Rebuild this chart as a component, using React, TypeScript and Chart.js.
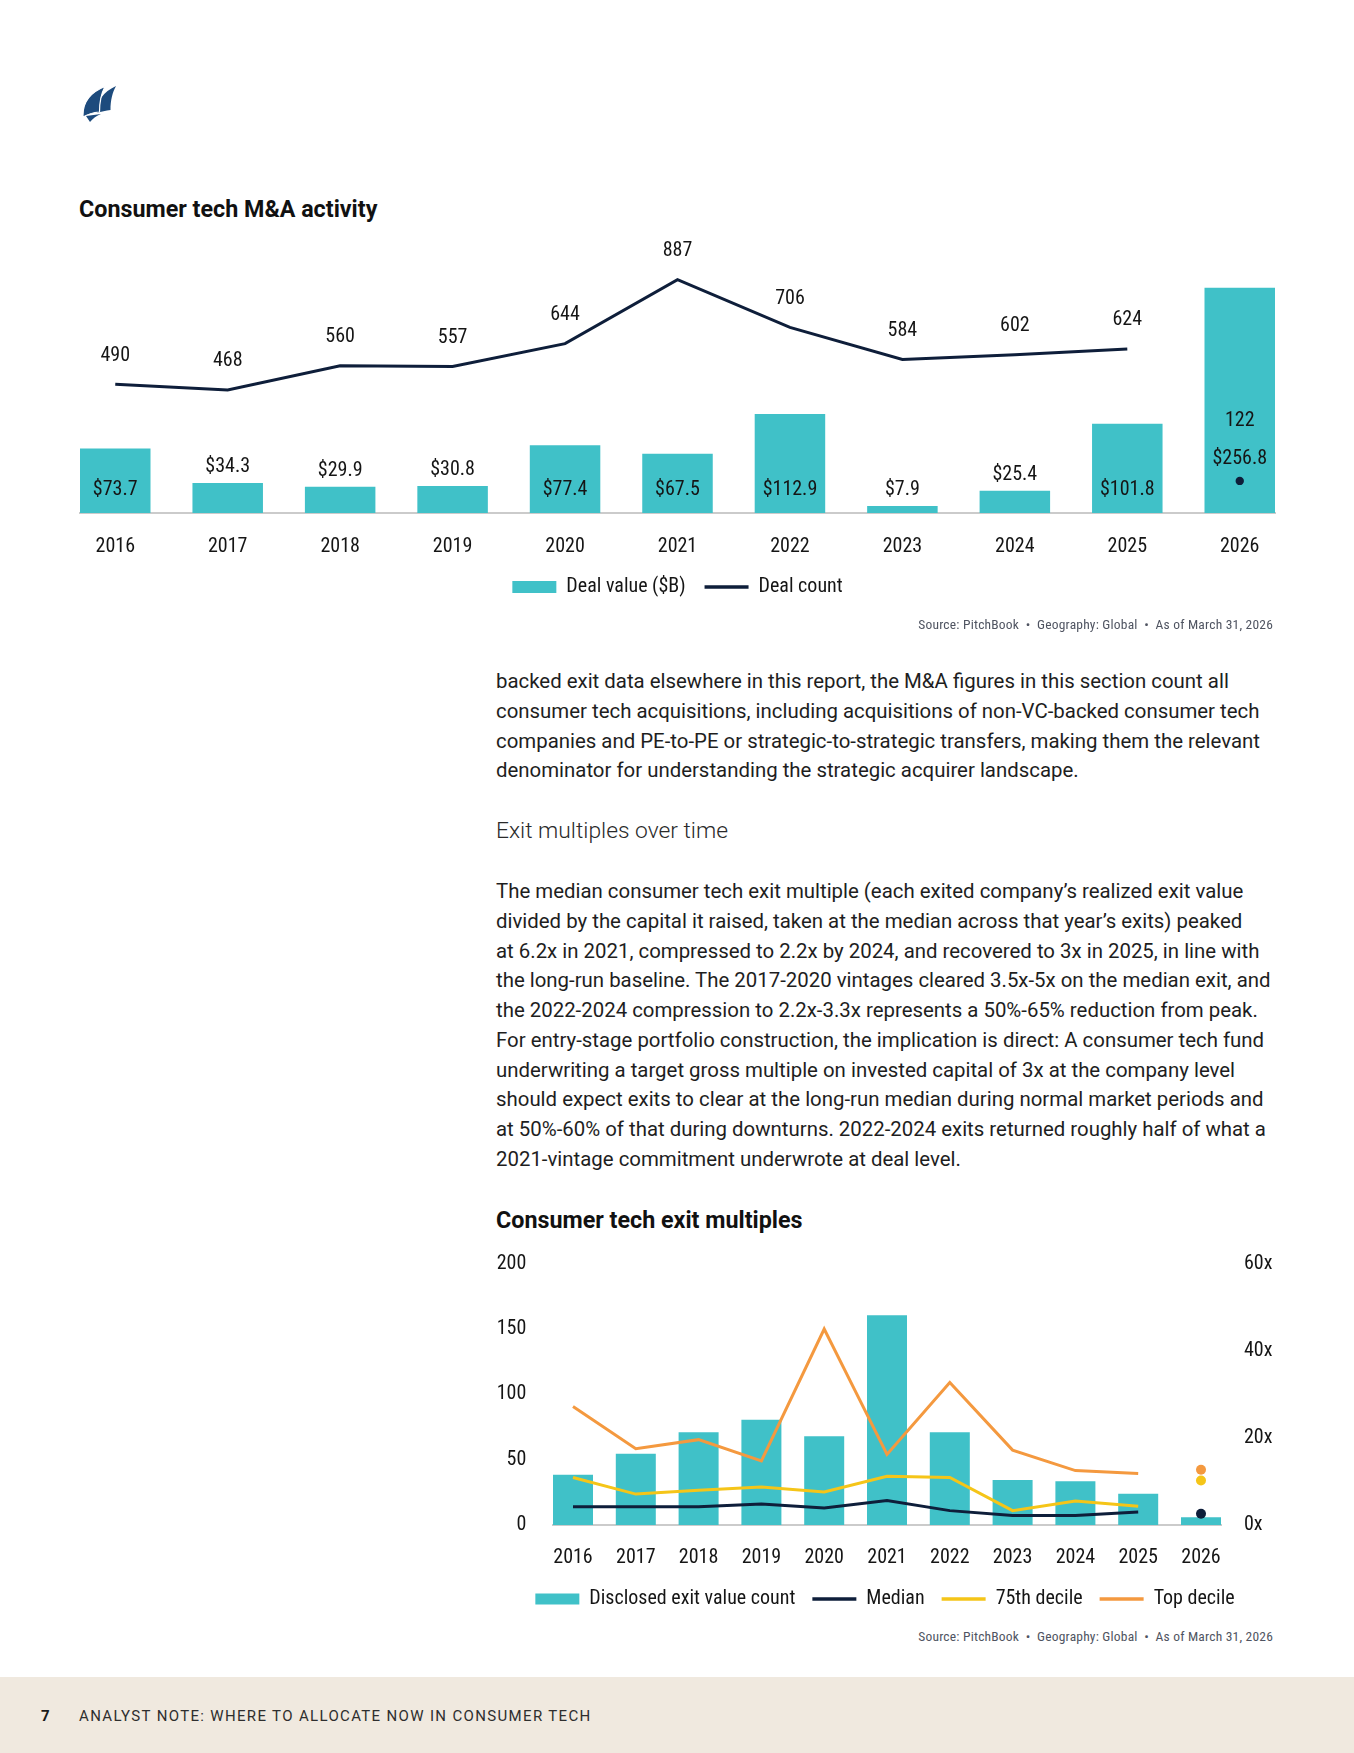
import React, { useEffect, useRef } from "react";
import { Chart, registerables } from "chart.js";

Chart.register(...registerables);

// ---------- Data ----------
const years = [2016, 2017, 2018, 2019, 2020, 2021, 2022, 2023, 2024, 2025, 2026];
const dealValue = [73.7, 34.3, 29.9, 30.8, 77.4, 67.5, 112.9, 7.9, 25.4, 101.8, 256.8];
const dealCount = [490, 468, 560, 557, 644, 887, 706, 584, 602, 624, 122];

const exitCount = [38.5, 54.5, 71, 80.5, 68, 160.5, 71, 34.5, 33.5, 24, 6];
const medianMult = [4.2, 4.2, 4.2, 4.8, 3.9, 5.6, 3.3, 2.2, 2.2, 3.0, 2.6];
const p75Mult = [10.9, 7.1, 8.0, 8.7, 7.6, 11.2, 10.9, 3.3, 5.5, 4.3, 10.2];
const topMult = [27.2, 17.5, 19.6, 14.7, 45.0, 16.2, 32.7, 17.2, 12.5, 11.8, 12.7];

const leftTicks = [0, 50, 100, 150, 200];
const rightTicks = [0, 20, 40, 60];

// ---------- Styles ----------
const TEAL = "#40C1C8";
const NAVY = "#0E1E3A";
const YELLOW = "#F5C518";
const ORANGE = "#F4993F";
const INK = "#151515";
const AXIS = "#CBCBCB";
const COND = "'Roboto Condensed', 'Liberation Sans Narrow', 'Arial Narrow', Roboto, sans-serif";
const SANS = "Roboto, 'Open Sans', sans-serif";
const FS = 20;

const last = years.length - 1;

function legendLabels(chart: any) {
  const items = (Chart as any).defaults.plugins.legend.labels.generateLabels(chart);
  items.sort((a: any, b: any) => a.datasetIndex - b.datasetIndex);
  return items.map((it: any) => {
    const ds: any = chart.data.datasets[it.datasetIndex];
    if (ds.type === "line") {
      return { ...it, pointStyle: "line", lineWidth: 3.5, strokeStyle: ds.borderColor, fillStyle: ds.borderColor, lineCap: "butt" };
    }
    return { ...it, pointStyle: "rect", lineWidth: 0, fillStyle: ds.backgroundColor };
  });
}

function lineDataset(label: string, values: number[], color: string, yAxisID: string, dotRadius: number) {
  return {
    type: "line" as const,
    label,
    data: years.map((x, i) => ({ x, y: values[i] })),
    yAxisID,
    borderColor: color,
    backgroundColor: color,
    borderWidth: 3,
    tension: 0,
    pointRadius: (ctx: any) => (ctx.dataIndex === last ? dotRadius : 0),
    pointHoverRadius: 0,
    pointBackgroundColor: color,
    pointBorderWidth: 0,
    segment: {
      borderColor: (ctx: any) => (ctx.p1DataIndex === last ? "rgba(0,0,0,0)" : color),
    },
    order: 1,
  };
}

const valueLabelPlugin = {
  id: "valueLabels",
  afterDatasetsDraw(chart: any) {
    const ctx = chart.ctx;
    const barMeta = chart.getDatasetMeta(0);
    const lineMeta = chart.getDatasetMeta(1);
    const bars = chart.data.datasets[0].data;
    const counts = chart.data.datasets[1].data;
    ctx.save();
    ctx.font = `${FS}px ${COND}`;
    ctx.fillStyle = INK;
    ctx.textAlign = "center";
    ctx.textBaseline = "middle";
    barMeta.data.forEach((bar: any, i: number) => {
      const p = bar.getProps(["x", "y", "base"], true);
      const pt = lineMeta.data[i];
      let barY = p.base - p.y > 45 ? p.base - 23 : p.y - 16;
      let countY = pt.y - 28.5;
      if (pt.y > p.y) {
        barY = pt.y - 22;
        countY = barY - 38;
      }
      ctx.fillText("$" + bars[i].y.toFixed(1), p.x, barY);
      ctx.fillText(String(counts[i].y), pt.x, countY);
    });
    ctx.restore();
  },
};

function MAChart() {
  const ref = useRef<HTMLCanvasElement>(null);
  useEffect(() => {
    const barFrac = 0.627;
    const chart = new Chart(ref.current as HTMLCanvasElement, {
      type: "bar",
      data: {
        datasets: [
          {
            type: "bar",
            label: "Deal value ($B)",
            data: years.map((x, i) => ({ x, y: dealValue[i] })),
            yAxisID: "yValue",
            backgroundColor: TEAL,
            borderWidth: 0,
            categoryPercentage: 1,
            barPercentage: barFrac,
            order: 2,
          } as any,
          lineDataset("Deal count", dealCount, NAVY, "yCount", 4.2) as any,
        ],
      },
      options: {
        animation: false,
        responsive: false,
        devicePixelRatio: 1,
        layout: { padding: { left: 80, right: 79, top: 30, bottom: 8 } },
        scales: {
          x: {
            type: "linear",
            min: years[0] - barFrac / 2,
            max: years[last] + barFrac / 2,
            offset: false,
            grid: { display: false, drawTicks: false },
            border: { display: true, color: AXIS, width: 2 },
            afterBuildTicks: (s: any) => {
              s.ticks = years.map((v) => ({ value: v }));
            },
            afterFit: (s: any) => {
              s.height = 45;
            },
            ticks: {
              autoSkip: false,
              maxRotation: 0,
              padding: 21.5,
              color: INK,
              font: { family: COND, size: FS },
              callback: (v: any) => String(v),
            },
          },
          yValue: { display: false, min: 0, max: 300 },
          yCount: { display: false, min: 0, max: 1000 },
        },
        plugins: {
          tooltip: { enabled: false },
          legend: {
            position: "bottom",
            labels: {
              usePointStyle: true,
              pointStyleWidth: 44,
              boxHeight: 12,
              padding: 19,
              color: INK,
              font: { family: COND, size: FS },
              generateLabels: legendLabels,
            },
          },
        },
      } as any,
      plugins: [valueLabelPlugin],
    });
    return () => chart.destroy();
  }, []);
  return <canvas ref={ref} width={1354} height={395} style={{ position: "absolute", left: 0, top: 220, width: 1354, height: 395 }} />;
}

function ExitChart() {
  const ref = useRef<HTMLCanvasElement>(null);
  useEffect(() => {
    const barFrac = 0.637;
    const chart = new Chart(ref.current as HTMLCanvasElement, {
      type: "bar",
      data: {
        datasets: [
          {
            type: "bar",
            label: "Disclosed exit value count",
            data: years.map((x, i) => ({ x, y: exitCount[i] })),
            yAxisID: "yLeft",
            backgroundColor: TEAL,
            borderWidth: 0,
            categoryPercentage: 1,
            barPercentage: barFrac,
            order: 2,
          } as any,
          lineDataset("Median", medianMult, NAVY, "yRight", 5) as any,
          lineDataset("75th decile", p75Mult, YELLOW, "yRight", 5) as any,
          lineDataset("Top decile", topMult, ORANGE, "yRight", 5) as any,
        ],
      },
      options: {
        animation: false,
        responsive: false,
        devicePixelRatio: 1,
        layout: { padding: { left: 0, right: 0, top: 0, bottom: 6 } },
        scales: {
          x: {
            type: "linear",
            min: years[0] - barFrac / 2,
            max: years[last] + barFrac / 2,
            offset: false,
            grid: { display: false, drawTicks: false },
            border: { display: true, color: AXIS, width: 2 },
            afterBuildTicks: (s: any) => {
              s.ticks = years.map((v) => ({ value: v }));
            },
            afterFit: (s: any) => {
              s.height = 47;
            },
            ticks: {
              autoSkip: false,
              maxRotation: 0,
              padding: 20.5,
              color: INK,
              font: { family: COND, size: FS },
              callback: (v: any) => String(v),
            },
          },
          yLeft: {
            position: "left",
            min: leftTicks[0],
            max: leftTicks[leftTicks.length - 1],
            grid: { display: false, drawTicks: false },
            border: { display: false },
            afterBuildTicks: (s: any) => {
              s.ticks = leftTicks.map((v) => ({ value: v }));
            },
            afterFit: (s: any) => {
              s.width = 83;
            },
            ticks: { padding: 26.7, color: INK, font: { family: COND, size: FS }, callback: (v: any) => String(v) },
          },
          yRight: {
            position: "right",
            min: rightTicks[0],
            max: rightTicks[rightTicks.length - 1],
            grid: { display: false, drawTicks: false },
            border: { display: false },
            afterBuildTicks: (s: any) => {
              s.ticks = rightTicks.map((v) => ({ value: v }));
            },
            afterFit: (s: any) => {
              s.width = 79;
            },
            ticks: { padding: 23, color: INK, font: { family: COND, size: FS }, callback: (v: any) => v + "x" },
          },
        },
        plugins: {
          tooltip: { enabled: false },
          legend: {
            position: "bottom",
            labels: {
              usePointStyle: true,
              pointStyleWidth: 44,
              boxHeight: 11,
              padding: 17,
              color: INK,
              font: { family: COND, size: FS },
              generateLabels: legendLabels,
            },
          },
        },
      } as any,
    });
    return () => chart.destroy();
  }, []);
  return <canvas ref={ref} width={830} height={400} style={{ position: "absolute", left: 470, top: 1225, width: 830, height: 400 }} />;
}

const para1 = [
  "backed exit data elsewhere in this report, the M&A figures in this section count all",
  "consumer tech acquisitions, including acquisitions of non-VC-backed consumer tech",
  "companies and PE-to-PE or strategic-to-strategic transfers, making them the relevant",
  "denominator for understanding the strategic acquirer landscape.",
];
const para2 = [
  "The median consumer tech exit multiple (each exited company\u2019s realized exit value",
  "divided by the capital it raised, taken at the median across that year\u2019s exits) peaked",
  "at 6.2x in 2021, compressed to 2.2x by 2024, and recovered to 3x in 2025, in line with",
  "the long-run baseline. The 2017-2020 vintages cleared 3.5x-5x on the median exit, and",
  "the 2022-2024 compression to 2.2x-3.3x represents a 50%-65% reduction from peak.",
  "For entry-stage portfolio construction, the implication is direct: A consumer tech fund",
  "underwriting a target gross multiple on invested capital of 3x at the company level",
  "should expect exits to clear at the long-run median during normal market periods and",
  "at 50%-60% of that during downturns. 2022-2024 exits returned roughly half of what a",
  "2021-vintage commitment underwrote at deal level.",
];

const SOURCE = "Source: PitchBook \u00A0\u2022\u00A0 Geography: Global \u00A0\u2022\u00A0 As of March 31, 2026";

function Para({ lines, top }: { lines: string[]; top: number }) {
  return (
    <div style={{ position: "absolute", left: 496, top, fontFamily: SANS, fontSize: 20.4, lineHeight: "29.75px", color: "#1E1E1E" }}>
      {lines.map((l, i) => (
        <div key={i} style={{ whiteSpace: "nowrap" }}>
          {l}
        </div>
      ))}
    </div>
  );
}

function Source({ top }: { top: number }) {
  return (
    <div
      style={{
        position: "absolute",
        right: 81,
        top,
        fontFamily: COND,
        fontSize: 13.5,
        lineHeight: "20px",
        color: "#4F5461",
        whiteSpace: "nowrap",
        letterSpacing: 0.2,
      }}
    >
      {SOURCE}
    </div>
  );
}

export default function App() {
  return (
    <div style={{ position: "absolute", left: 0, top: 0, width: 1354, height: 1753, background: "#fff", overflow: "hidden" }}>
      <svg style={{ position: "absolute", left: 80, top: 83 }} width={40} height={40} viewBox="0 0 40 40">
        <path d="M17 30 C17 18 23 9 36 3 C32.5 9.5 30.5 17 30.5 27 C26 27.5 21 28.5 17 30 Z" fill="#1D4B7D" />
        <path d="M3 32 C3 19 11 9 25 3.5 C21.5 10 19.5 18 19.5 29 C13 29.5 8 31 3 34 Z" fill="#1D4B7D" stroke="#fff" strokeWidth={1.2} />
        <path d="M6 33 L10 39 C13 35.5 16.5 32.5 21 31 Z" fill="#1D4B7D" />
      </svg>

      <div style={{ position: "absolute", left: 79, top: 194, fontFamily: SANS, fontWeight: 700, fontSize: 23.3, lineHeight: "30px", color: "#111" }}>
        Consumer tech M&amp;A activity
      </div>
      <MAChart />
      <Source top={614} />

      <Para lines={para1} top={667} />
      <div style={{ position: "absolute", left: 496, top: 816, fontFamily: SANS, fontWeight: 300, fontSize: 22.8, lineHeight: "30px", color: "#2A2A2A" }}>
        Exit multiples over time
      </div>
      <Para lines={para2} top={877} />

      <div style={{ position: "absolute", left: 496, top: 1205, fontFamily: SANS, fontWeight: 700, fontSize: 23.3, lineHeight: "30px", color: "#111" }}>
        Consumer tech exit multiples
      </div>
      <ExitChart />
      <Source top={1626} />

      <div style={{ position: "absolute", left: 0, top: 1677, width: 1354, height: 76, background: "#F0E9DF" }}>
        <div style={{ position: "absolute", left: 41, top: 28, fontFamily: SANS, fontWeight: 700, fontSize: 15, lineHeight: "22px", color: "#1A1A1A" }}>7</div>
        <div style={{ position: "absolute", left: 79, top: 28, fontFamily: SANS, fontSize: 15, lineHeight: "22px", letterSpacing: 1.34, color: "#2E2E2E", whiteSpace: "nowrap" }}>
          ANALYST NOTE: WHERE TO ALLOCATE NOW IN CONSUMER TECH
        </div>
      </div>
    </div>
  );
}
